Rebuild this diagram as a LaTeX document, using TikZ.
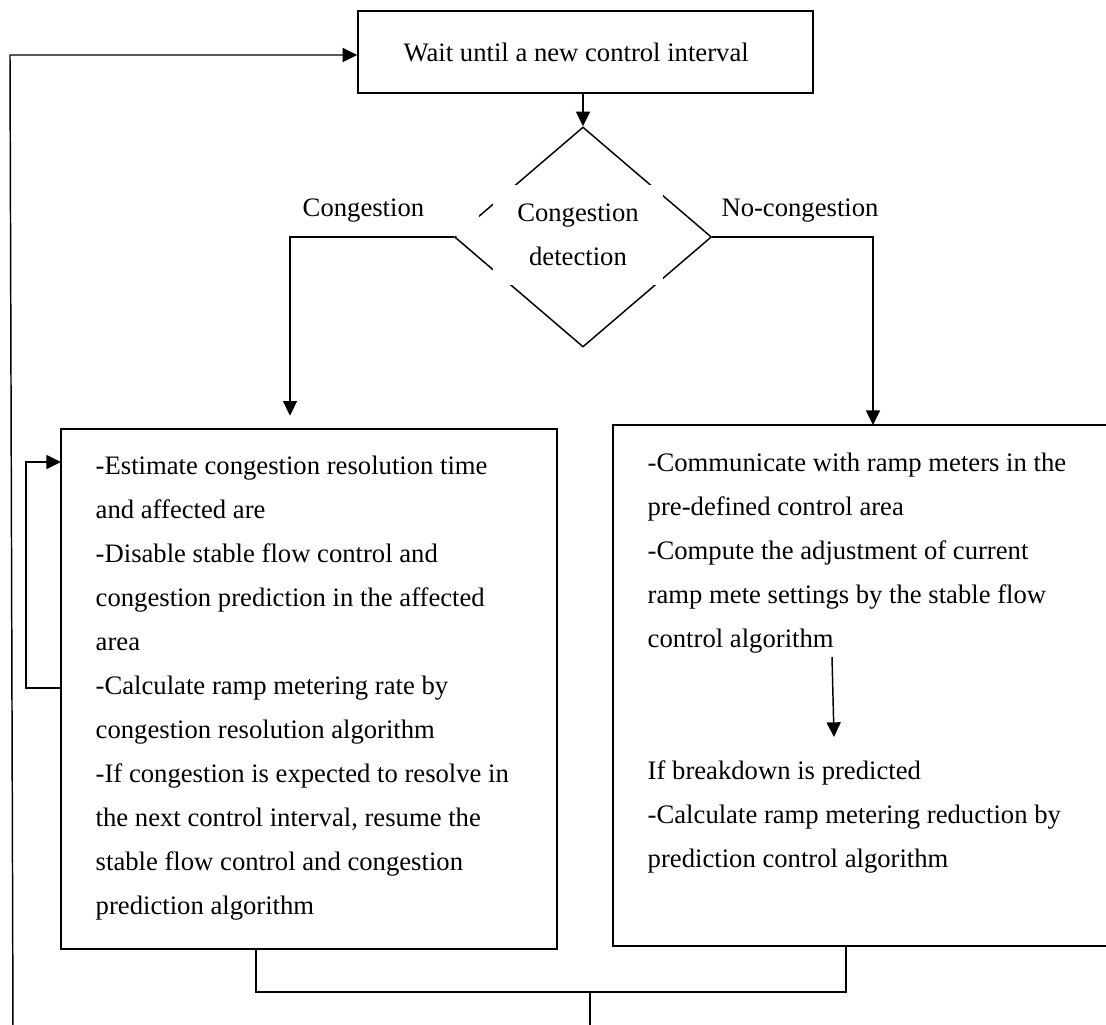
\documentclass[tikz,border=0pt]{standalone}
\usepackage{fontspec}
\setmainfont{Liberation Serif}
\usetikzlibrary{arrows.meta,shapes.geometric}
\begin{document}
\begin{tikzpicture}[x=0.75pt,y=-0.75pt,
  line width=1.1pt,
  every node/.style={font=\fontsize{20}{33}\selectfont},
  arr/.style={-{Triangle[length=11pt,width=10.5pt]}},
  box/.style={draw,rectangle,inner sep=0pt},
  txt/.style={inner sep=0pt,align=left,anchor=north west}]
\clip (0,0) rectangle (1106,1024);

% start of each control interval
\node[box,minimum width=341.25pt,minimum height=61.5pt] (wait) at (585.5,52)
  {\hspace*{-14pt}Wait until a new control interval};

% decision
\node[draw,diamond,shape aspect=1,inner sep=0pt,
      minimum width=192.75pt,minimum height=165pt] (dec) at (583,237) {};
\node[fill=white,inner sep=0pt,align=center,
      minimum width=127.5pt,minimum height=75pt] (dectxt) at (578,235)
  {Congestion\\detection};
\node[fill=white,anchor=west,inner sep=3pt,text width=129pt,
      minimum height=37.5pt] (lcong) at (298,211) {Congestion};
\node (lnocong) at (800,211) {No-congestion};

% congestion branch
\node[box,minimum width=372pt,minimum height=390pt] (lbox) at (309,689) {};
\node[txt] (ltxt) at (95,455)
  {-Estimate congestion resolution time\\
   and affected are\\
   -Disable stable flow control and\\
   congestion prediction in the affected\\
   area\\
   -Calculate ramp metering rate by\\
   congestion resolution algorithm\\
   -If congestion is expected to resolve in\\
   the next control interval, resume the\\
   stable flow control and congestion\\
   prediction algorithm};

% no-congestion branch
\node[box,minimum width=387.75pt,minimum height=390.75pt] (rbox) at (871.5,685.5) {};
\node[txt] (rtxt) at (647,452)
  {-Communicate with ramp meters in the\\
   pre-defined control area\\
   -Compute the adjustment of current\\
   ramp mete settings by the stable flow\\
   control algorithm\\[66pt]
   If breakdown is predicted\\
   -Calculate ramp metering reduction by\\
   prediction control algorithm};

% connection points
\coordinate (lin) at (290,429);
\coordinate (rin) at (873,425);
\coordinate (lout) at (256,949);
\coordinate (rout) at (846,946);
\coordinate (jl) at (256,992);
\coordinate (jr) at (846,992);
\coordinate (jm) at (590,992);
\coordinate (bot) at (590,1030);
\coordinate (fbbot) at (13,1030);
\coordinate (fbtop) at (10,55);
\coordinate (loopout) at (61,688);
\coordinate (loopin) at (61,462);
\coordinate (pa) at (832,657);
\coordinate (pb) at (834,737);

% connectors
\draw[arr] (wait.south -| dec.north) -- (dec.north);
\draw[arr,shorten >=10pt] (dec.west) -| (lin);
\draw[arr] (dec.east) -| (rin);
\draw[arr] (pa) -- (pb);
\draw[arr] (loopout) -- ++(-35,0) |- (loopin);
\draw (lout) -- (jl) -- (jr) -- (rout);
\draw (jm) -- (bot);
\draw[arr] (fbbot) -- (fbtop) -- (fbtop -| wait.west);
\end{tikzpicture}
\end{document}
